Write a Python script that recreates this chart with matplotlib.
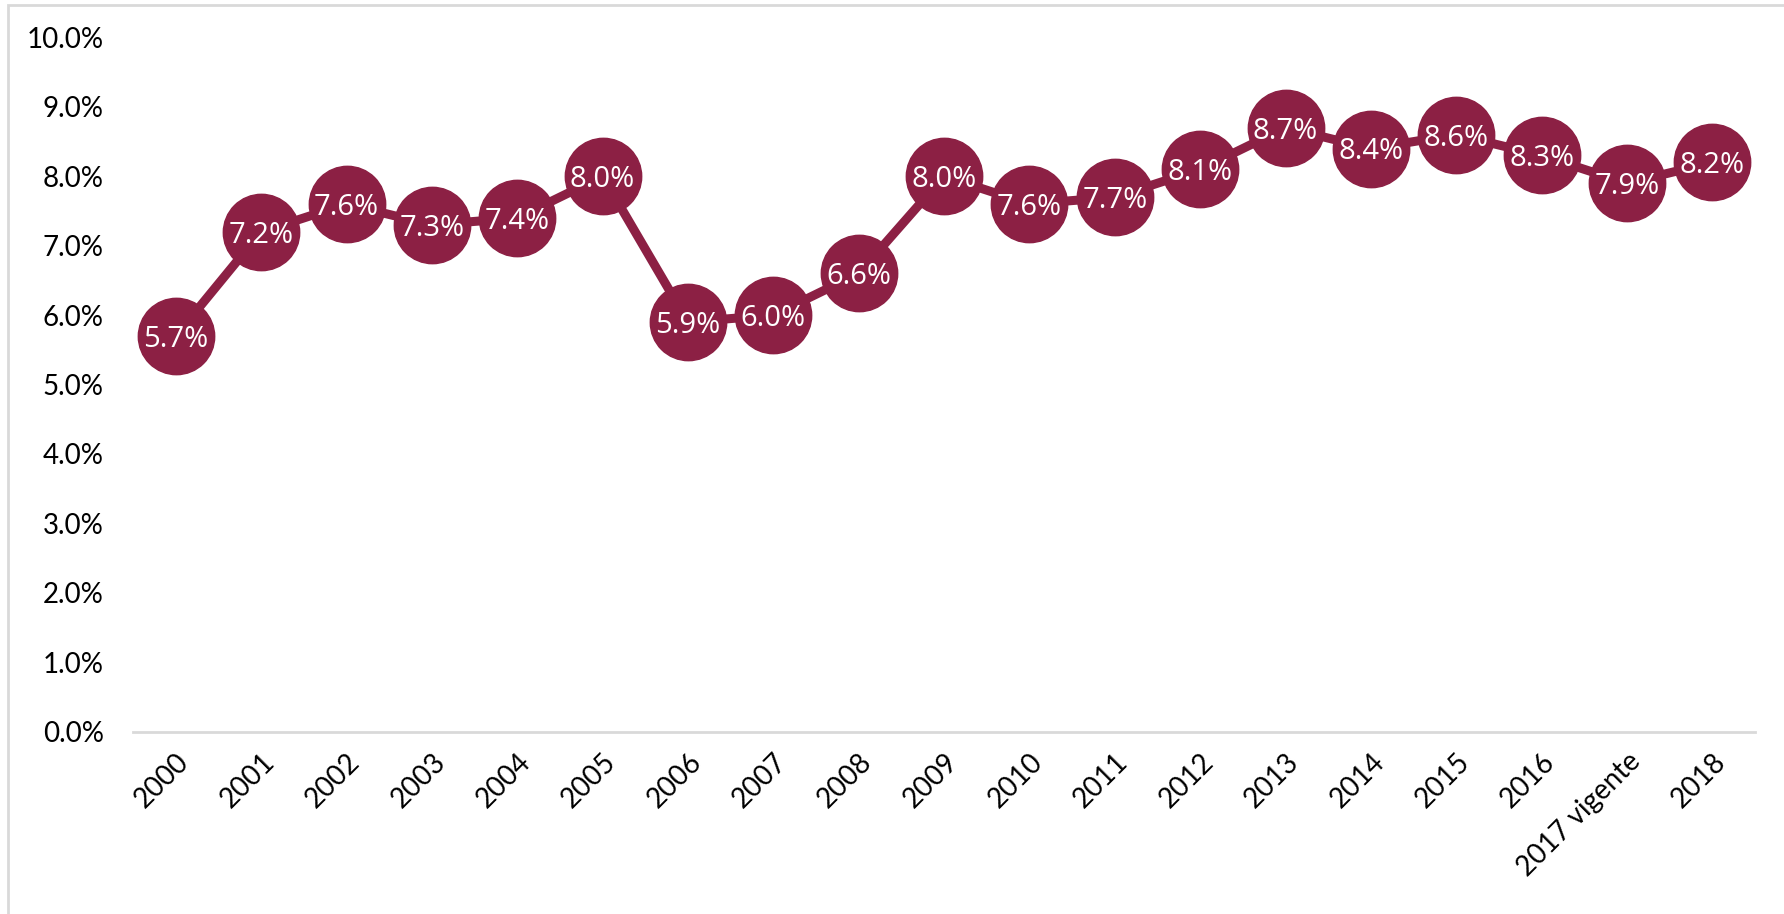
import matplotlib.pyplot as plt
from matplotlib.ticker import PercentFormatter
from matplotlib.patches import Rectangle

years = ['2000', '2001', '2002', '2003', '2004', '2005', '2006', '2007', '2008', '2009',
         '2010', '2011', '2012', '2013', '2014', '2015', '2016', '2017 vigente', '2018']
rates = [5.7, 7.2, 7.6, 7.3, 7.4, 8.0, 5.9, 6.0, 6.6, 8.0,
         7.6, 7.7, 8.1, 8.7, 8.4, 8.6, 8.3, 7.9, 8.2]
yticks = [0, 1, 2, 3, 4, 5, 6, 7, 8, 9, 10]

color = '#8C2044'

fig = plt.figure(figsize=(17.84, 9.14), dpi=100)
ax = fig.add_axes([0.0746, 0.1996, 0.9092, 0.7594])

x = list(range(len(years)))
ax.plot(x, rates, color=color, lw=6.5, marker='o', ms=55, mec=color, mfc=color, zorder=3)
for xi, v in zip(x, rates):
    ax.text(xi, v - 0.05, f'{v:.1f}%', ha='center', va='center', color='white',
            fontsize=21, family='Open Sans', zorder=4)

ax.set_xlim(-0.5, len(years) - 0.5)
ax.set_ylim(0, 10)
ax.set_yticks(yticks)
ax.yaxis.set_major_formatter(PercentFormatter(decimals=1))
ax.set_xticks(x)
ax.set_xticklabels(years, rotation=45, ha='right', rotation_mode='anchor')

for s in ['top', 'right', 'left']:
    ax.spines[s].set_visible(False)
ax.spines['bottom'].set_color('#D9D9D9')
ax.spines['bottom'].set_linewidth(2)
ax.tick_params(axis='y', length=0, pad=21, labelsize=20)
ax.tick_params(axis='x', length=0, pad=12, labelsize=20)
for lab in ax.get_xticklabels() + ax.get_yticklabels():
    lab.set_family('Lato')

# light frame around the chart area
fig.patches.append(Rectangle((8 / 1784, -0.05), 1.1, 1.05 - 5 / 914, transform=fig.transFigure,
                             fill=False, ec='#D9D9D9', lw=2))

fig.savefig('out.png', dpi=100)
